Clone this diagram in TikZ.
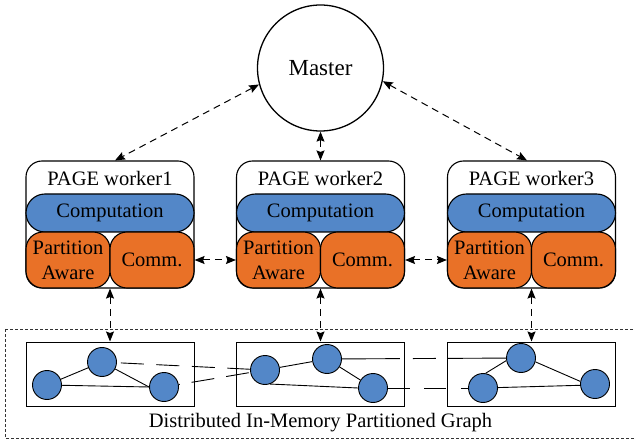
\documentclass[tikz,border=0pt]{standalone}
\usepackage{fontspec}
\setmainfont{Liberation Serif}
\usetikzlibrary{arrows.meta}
\definecolor{blu}{RGB}{83,135,200}
\definecolor{org}{RGB}{233,113,39}
\begin{document}
\begin{tikzpicture}[x=1pt,y=-1pt,
  txt/.style={font=\fontsize{20.5}{25}\selectfont},
  wbox/.style={draw, fill=white, rounded corners=16pt, minimum width=168pt, minimum height=127pt, line width=1.1pt, inner sep=0pt},
  comp/.style={draw, fill=blu, rounded corners=19pt, minimum width=168pt, minimum height=38pt, line width=1.1pt, inner sep=0pt, txt},
  half/.style={draw, fill=org, rounded corners=17pt, minimum width=84pt, minimum height=56pt, line width=1.1pt, inner sep=0pt, txt, align=center},
  gbox/.style={draw, minimum width=168pt, minimum height=64pt, line width=1pt, inner sep=0pt},
  gn/.style={circle, draw, fill=blu, minimum size=29pt, inner sep=0pt, line width=0.9pt},
  gedge/.style={line width=0.9pt},
  darr/.style={dash pattern=on 7pt off 5pt, line width=1pt, {Stealth[length=10pt,width=8pt,inset=1.5pt]}-{Stealth[length=10pt,width=8pt,inset=1.5pt]}},
]
\useasboundingbox (0,0) rectangle (634,443);
\begin{scope}
\clip (0,0) rectangle (634,443);
\draw[line width=0.6pt, dash pattern=on 3pt off 2pt, black!80] (5,329) rectangle (645,438);
\end{scope}

\node[circle, draw, line width=1.3pt, minimum size=126pt, inner sep=0pt, font=\fontsize{23}{27}\selectfont] (master) at (320.5,68) {Master};

\foreach \i/\x in {1/110,2/320.5,3/531.5}{
  \node[wbox] (w\i) at (\x,224.5) {};
  \node[txt, anchor=base] (t\i) at (\x,186) {PAGE worker\i};
  \node[comp] (c\i) at (\x,213) {Computation};
  \node[half] (p\i) at (\x-42,260) {Partition\\Aware};
  \node[half] (m\i) at (\x+42,260) {Comm.};
  \node[gbox] (g\i) at (\x,374) {};
}

\draw[darr] (master.195) -- ([xshift=5pt]w1.north);
\draw[darr] (master.south) -- (w2.north);
\draw[darr] (master.-12.5) -- ([xshift=-4.5pt]w3.north);
\draw[darr] (m1.east) -- (p2.west);
\draw[darr] (m2.east) -- (p3.west);
\foreach \i in {1,2,3}{\draw[darr] (w\i.south) -- (g\i.north);}

\node[gn] (A) at (47,385) {};
\node[gn] (B) at (102,362) {};
\node[gn] (C) at (164,387) {};
\node[gn] (D) at (265,370) {};
\node[gn] (E) at (327,359) {};
\node[gn] (F) at (373,388) {};
\node[gn] (G) at (483,388) {};
\node[gn] (H) at (521,358) {};
\node[gn] (I) at (595,384) {};

\draw[gedge] (A) -- (B);
\draw[gedge] (A) -- (C.180);
\draw[gedge] (B) -- (C.180);
\draw[gedge] (D) -- (E);
\draw[gedge] (E) -- (F);
\draw[gedge] (D.290) -- (F.180);
\draw[gedge] (G.80) -- (H.190);
\draw[gedge] (H.345) -- (I.170);
\draw[gedge] (G) -- (I.185);

\draw[gedge, dash pattern=on 23pt off 12.5pt, dash phase=31.5pt] (B) -- (D);
\draw[gedge, dash pattern=on 23pt off 12pt, dash phase=22pt] (C) -- (D);
\draw[gedge, dash pattern=on 58pt off 13pt on 23pt off 12pt on 60pt off 10pt] (E) -- (H);
\draw[gedge, dash pattern=on 22pt off 14.5pt] (F) -- (G);

\node[txt, anchor=base] (lbl) at (320.5,427) {Distributed In-Memory Partitioned Graph};
\end{tikzpicture}
\end{document}
